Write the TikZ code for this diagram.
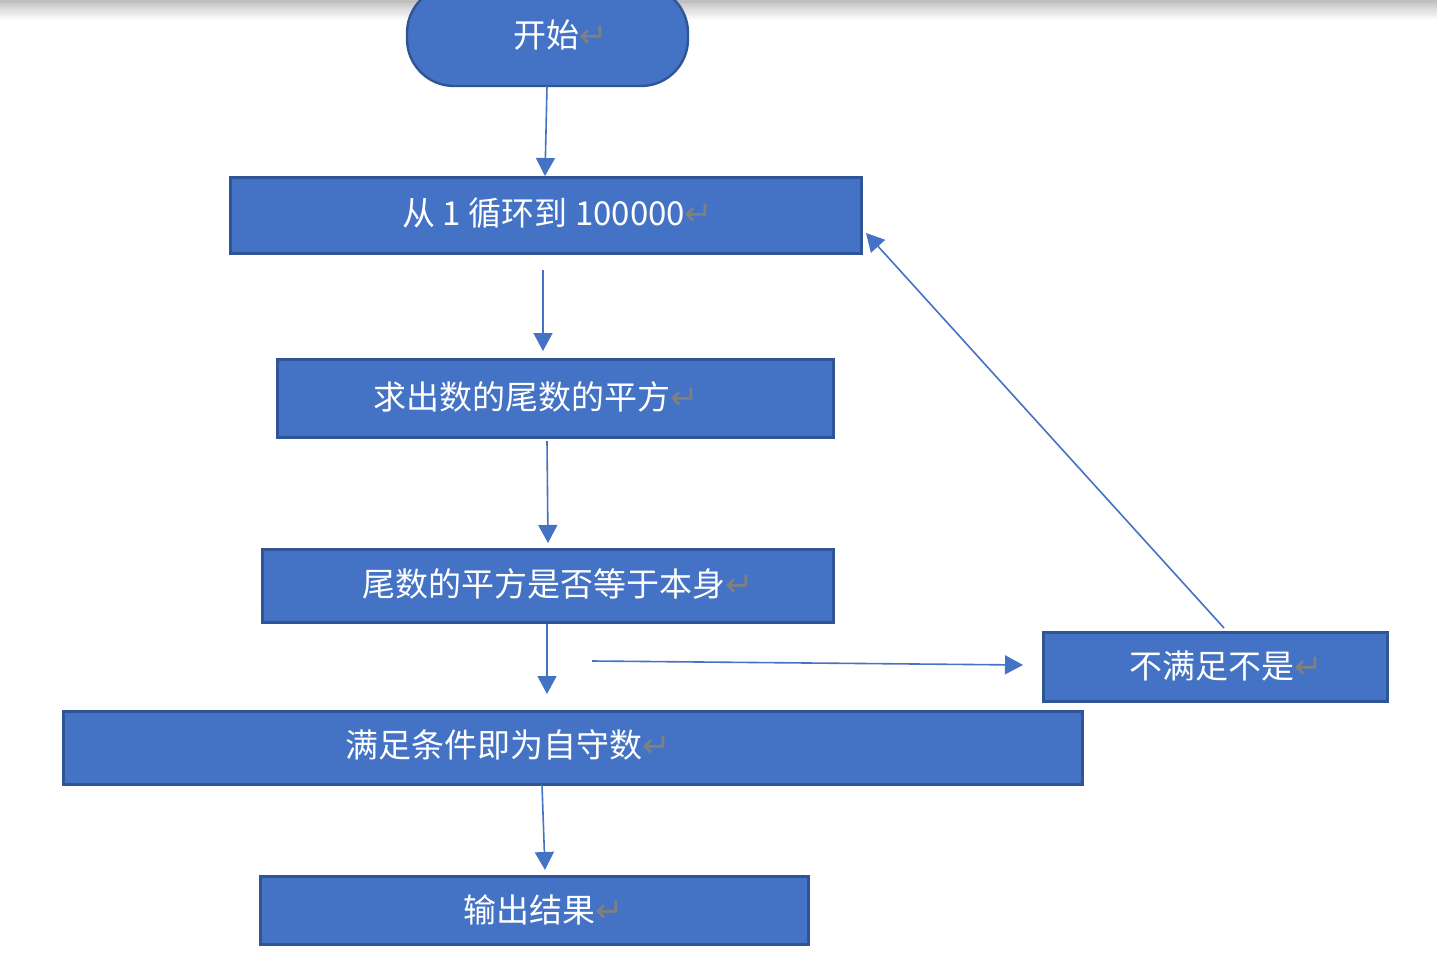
\documentclass[tikz,border=0pt]{standalone}
\usepackage{fontspec}
\newfontfamily\cjk{Noto Sans CJK SC}
\newfontfamily\symf{DejaVu Sans}
\usetikzlibrary{arrows.meta}
\definecolor{boxfill}{HTML}{4472C4}
\definecolor{boxline}{HTML}{2F5597}
\definecolor{arrowc}{HTML}{4472C4}
\definecolor{retc}{HTML}{808080}
\newcommand{\ret}{{\symf\fontsize{34}{34}\selectfont\color{retc}↵}}
\tikzset{
  box/.style={draw=boxline, line width=3pt, fill=boxfill, rectangle, inner sep=0pt},
  term/.style={draw=boxline, line width=2.4pt, fill=boxfill, rounded corners=47pt, inner sep=0pt},
  txt/.style={text=white, font=\cjk\fontsize{33}{33}\selectfont, inner sep=0pt, anchor=center},
  flow/.style={draw=arrowc, line width=1.6pt, -{Triangle[length=18pt,width=19pt]}}
}
\begin{document}
\begin{tikzpicture}[x=1pt,y=-1pt]
\useasboundingbox (0,0) rectangle (1437,963);
\fill[white] (0,0) rectangle (1437,963);
\shade[top color=black!22, bottom color=white] (0,2) rectangle (1437,20);
\fill[black!25] (0,0) rectangle (1437,3);
% start terminal
\node[term, minimum width=281pt, minimum height=100pt] (s) at (547.5,36) {};
\node[txt] (ts) at (561,35) {开始\ret};
% boxes
\node[box, minimum width=631pt, minimum height=76pt] (b1) at (545.5,215) {};
\node[txt] (t1) at (558,213) {从 1 循环到 100000\ret};
\node[box, minimum width=556pt, minimum height=78pt] (b2) at (555,398) {};
\node[txt] (t2) at (536,397) {求出数的尾数的平方\ret};
\node[box, minimum width=571pt, minimum height=73pt] (b3) at (547.5,585.5) {};
\node[txt] (t3) at (558,584) {尾数的平方是否等于本身\ret};
\node[box, minimum width=344pt, minimum height=69pt] (b4) at (1215,666.5) {};
\node[txt] (t4) at (1226,666) {不满足不是\ret};
\node[box, minimum width=1019pt, minimum height=73pt] (b5) at (572.5,747.5) {};
\node[txt] (t5) at (508,745) {满足条件即为自守数\ret};
\node[box, minimum width=548pt, minimum height=68pt] (b6) at (534,910) {};
\node[txt] (t6) at (544,910) {输出结果\ret};
% connector end points
\coordinate (a1s) at (547,86);
\coordinate (a1e) at (545,176);
\coordinate (a2s) at (543,270);
\coordinate (a2e) at (543,351);
\coordinate (a3s) at (547,441);
\coordinate (a3e) at (548,543);
\coordinate (a4s) at (547,624);
\coordinate (a4e) at (547,694);
\coordinate (a5s) at (592,661);
\coordinate (a5e) at (1023,665);
\coordinate (a6s) at (1224,628);
\coordinate (a6e) at (866,233);
\coordinate (a7s) at (542,785);
\coordinate (a7e) at (545,870);
\draw[flow] (a1s) -- (a1e);
\draw[flow] (a2s) -- (a2e);
\draw[flow] (a3s) -- (a3e);
\draw[flow] (a4s) -- (a4e);
\draw[flow] (a5s) -- (a5e);
\draw[flow] (a6s) -- (a6e);
\draw[flow] (a7s) -- (a7e);
\end{tikzpicture}
\end{document}
